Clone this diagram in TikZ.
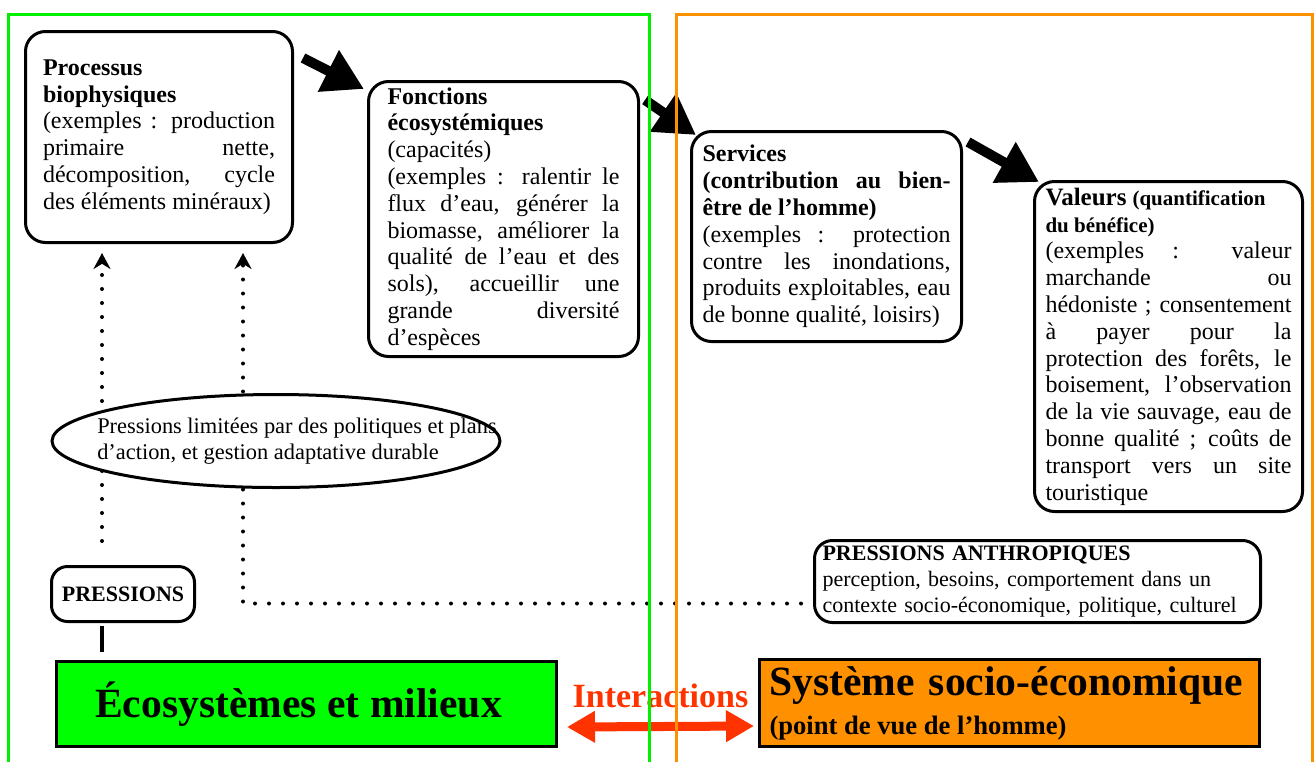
\documentclass[tikz,border=0pt]{standalone}
\usepackage{fontspec}
\setmainfont{Liberation Serif}
\usetikzlibrary{arrows.meta,calc,shapes.geometric}

\definecolor{framegreen}{RGB}{0,240,0}
\definecolor{ecogreen}{RGB}{0,255,0}
\definecolor{socioorange}{RGB}{255,145,0}
\definecolor{interred}{RGB}{255,51,0}

\newcommand{\boxfont}{\fontsize{12}{13.4}\selectfont\tolerance=10000\hbadness=10000\hyphenpenalty=10000}

\tikzset{
  roundbox/.style={draw, line width=1.5pt, rounded corners=10pt, anchor=north west,
                   align=justify, font=\boxfont, inner ysep=2pt},
  pressbox/.style={draw, line width=1.5pt, rounded corners=8pt, anchor=north west,
                   minimum width=71.5pt, minimum height=27.5pt, inner sep=0pt,
                   font=\fontsize{11}{13}\selectfont\bfseries},
  limitellipse/.style={ellipse, draw, line width=1.5pt, fill=white, inner xsep=-60pt,
                   inner ysep=0pt, minimum width=224pt, minimum height=46.5pt, align=left,
                   font=\fontsize{11.2}{13.3}\selectfont},
  ecobox/.style={draw, line width=1.5pt, fill=ecogreen, anchor=north west,
                 minimum width=250pt, minimum height=42.5pt,
                 font=\fontsize{20.8}{24}\selectfont\bfseries},
  sysbox/.style={draw, line width=1.5pt, fill=socioorange, anchor=north west,
                 text width=240pt, inner xsep=5pt, minimum height=43.5pt, align=left,
                 font=\fontsize{20.8}{19.5}\selectfont\bfseries},
  bigarrow/.style={line width=5pt, -{Triangle[length=20pt,width=22pt]}},
  dotline/.style={line width=2pt, line cap=round, dash pattern=on 0pt off 7pt},
  dottip/.style={-{Stealth[length=8pt,width=8.5pt]}},
  interarrow/.style={interred, line width=4.5pt,
                     {Triangle[length=14pt,width=15pt]}-{Triangle[length=14pt,width=15pt]}},
  interlabel/.style={interred, inner sep=0pt, font=\fontsize{17}{20}\selectfont\bfseries}
}

\begin{document}
\begin{tikzpicture}[x=0.5pt, y=-0.5pt]
% picture size
\useasboundingbox (0,0) rectangle (1316,761);
\clip (0,0) rectangle (1316,761);
%
% boxes of the chain
\node[roundbox, text width=116pt, inner xsep=8.75pt, minimum height=105.5pt] (proc) at (24,30)
  {\textbf{Processus\\ biophysiques}\\ (exemples : production\linebreak primaire nette,\linebreak
   décomposition, cycle\linebreak des éléments minéraux)};
\node[roundbox, text width=116pt, inner xsep=9.5pt, minimum height=137.5pt] (fonc) at (367,80)
  {\textbf{Fonctions\\ écosystémiques}\\ (capacités)\\ (exemples : ralentir le\linebreak
   flux d’eau, générer la\linebreak biomasse, améliorer la\linebreak qualité de l’eau et des\linebreak
   sols), accueillir une\linebreak grande diversité\linebreak d’espèces};
\node[roundbox, text width=124pt, inner xsep=5.5pt, minimum height=105pt] (serv) at (690,130)
  {\textbf{Services\\ (contribution au bien-\linebreak être de l’homme)}\\
   (exemples : protection\linebreak contre les inondations,\linebreak produits exploitables, eau\linebreak
   de bonne qualité, loisirs)};
\node[roundbox, text width=123pt, inner xsep=5.5pt, minimum height=165pt] (val) at (1033,180)
  {{\fontsize{12.5}{13.4}\selectfont\textbf{Valeurs}} {\fontsize{10.5}{13.4}\selectfont\bfseries
   (quantification\\ du bénéfice)}\\ (exemples : valeur\linebreak marchande ou\linebreak
   hédoniste ; consentement\linebreak à payer pour la\linebreak protection des forêts, le\linebreak
   boisement, l’observation\linebreak de la vie sauvage, eau de\linebreak bonne qualité ; coûts de\linebreak
   transport vers un site\linebreak touristique};
%
% pressures
\node[pressbox] (press) at (50,565) {PRESSIONS};
\node[roundbox, rounded corners=9pt, align=left, text width=215pt, inner xsep=4pt,
      minimum height=41pt, font=\fontsize{11}{13.2}\selectfont] (anthro) at (813,539)
  {\textbf{PRESSIONS ANTHROPIQUES}\\ perception, besoins, comportement dans un\\
   contexte socio-économique, politique, culturel};
%
% the two systems
\node[ecobox] (eco) at (55,660) {Écosystèmes et milieux\hspace*{8pt}};
\node[sysbox] (sys) at (758,658)
  {Système socio-économique\\
   {\fontsize{13.3}{15}\selectfont\spaceskip=0pt\xspaceskip=0pt (point de vue de l’homme)}};
%
% dotted pressure lines
\coordinate (leftaxis) at (102,0);
\coordinate (rightaxis) at (243,0);
\draw[dotline, dottip, shorten <=12pt, shorten >=4.5pt] (press.north -| leftaxis) -- (proc.south -| leftaxis);
\draw[dotline, dottip, shorten >=4.5pt] ([shift={(-12,22)}]anthro.west) -| (proc.south -| rightaxis);
\draw[line width=2pt, shorten <=1.5pt, shorten >=4pt] (press.south -| leftaxis) -- (eco.north -| leftaxis);
%
% ellipse over the dotted lines
\node[limitellipse] (limit) at (276,441)
  {\hspace*{21pt}Pressions limitées par des politiques et plans\\
   \hspace*{21pt}d’action, et gestion adaptative durable};
%
% thick arrows
\draw[bigarrow] ([shift={(9,28)}]proc.north east) -- ([shift={(-3,9)}]fonc.north west);
\draw[bigarrow] ([shift={(5,20)}]fonc.north east) -- ([shift={(6,5)}]serv.north west);
\draw[bigarrow] ([shift={(5,12)}]serv.north east) -- ([shift={(6,2)}]val.north west);
%
% interactions
\draw[interarrow] ([shift={(9,23)}]eco.east) -- ([shift={(-4,23)}]sys.west)
  node[interlabel, midway, above=7pt] (inter) {Interactions};
%
% frames
\draw[framegreen, line width=1.5pt] (8,14) rectangle (649,790);
\draw[socioorange, line width=1.5pt] (676,14) rectangle (1312,790);
\end{tikzpicture}
\end{document}
